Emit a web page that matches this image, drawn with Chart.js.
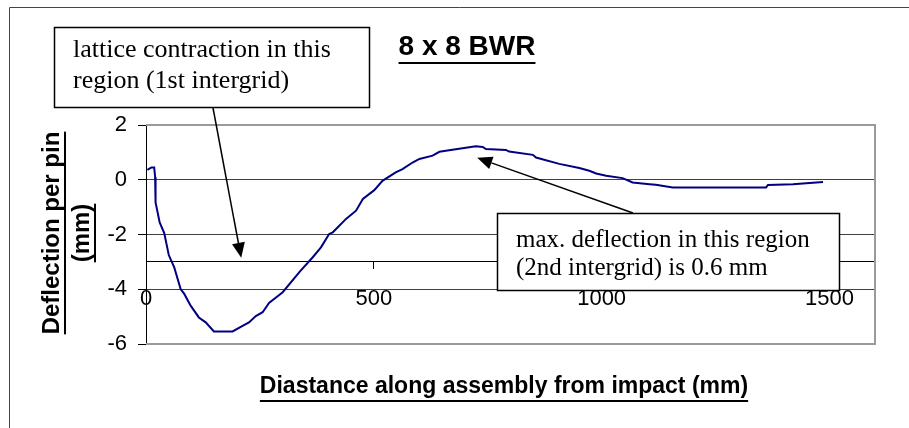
<!DOCTYPE html>
<html lang="en">
<head>
<meta charset="UTF-8">
<title>8 x 8 BWR</title>
<style>
  body { margin: 0; background: #fff; }
  canvas { display: block; }
</style>
</head>
<body>
<canvas id="deflChart" width="909" height="428"></canvas>

<script src="https://cdn.jsdelivr.net/npm/chart.js"></script>
<script>
// values (mm)
const distance = [3, 12, 18, 20, 21, 30, 40, 50, 62, 76, 84, 98, 116, 131, 149, 170, 190, 211, 226, 241,
  256, 270, 300, 338, 366, 384, 402, 410, 439, 461, 476, 501, 519, 548, 563, 585, 600, 629, 644, 658,
  702, 724, 739, 746, 790, 797, 849, 856, 907, 951, 973, 988, 1010, 1046, 1068, 1105, 1119, 1156, 1361, 1365,
  1420, 1486];
const deflection = [0.36, 0.45, 0.45, 0.10, -0.83, -1.56, -1.95, -2.75, -3.2, -3.99, -4.17, -4.6, -5.03, -5.21, -5.54, -5.54, -5.54, -5.35, -5.21, -4.98,
  -4.84, -4.5, -4.11, -3.35, -2.83, -2.47, -1.98, -1.92, -1.43, -1.13, -0.70, -0.38, -0.04, 0.27, 0.39, 0.63, 0.76, 0.88, 1.02, 1.06,
  1.17, 1.22, 1.20, 1.12, 1.09, 1.03, 0.91, 0.81, 0.58, 0.43, 0.33, 0.23, 0.15, 0.06, -0.10, -0.16, -0.18, -0.28, -0.28, -0.19,
  -0.16, -0.08];

const xTicks = [0, 500, 1000, 1500];
const yTicks = [2, 0, -2, -4, -6];

const chartTitle = '8 x 8 BWR';
const xTitle = 'Diastance along assembly from impact (mm)';
const yTitle = ['Deflection per pin', '(mm)'];
const note1 = ['lattice contraction in this', 'region (1st intergrid)'];
const note2 = ['max. deflection in this region', '(2nd intergrid) is 0.6 mm'];
// arrow tips, in data units
const note1Tip = [209, -2.85];
const note2Tip = [727, 0.80];

const SANS = '"Liberation Sans", Arial, sans-serif';
const SERIF = '"Liberation Serif", "Times New Roman", serif';

function underlined(ctx, text, x, y, off) {
    ctx.fillText(text, x, y);
    const w = ctx.measureText(text).width;
    ctx.fillRect(x - w / 2, y + off, w, 2);
}

function arrow(ctx, x1, y1, x2, y2) {
    const a = Math.atan2(y2 - y1, x2 - x1);
    const hl = 15, hw = 6.5;
    const bx = x2 - hl * Math.cos(a), by = y2 - hl * Math.sin(a);
    ctx.beginPath();
    ctx.moveTo(x1, y1);
    ctx.lineTo(bx, by);
    ctx.stroke();
    ctx.beginPath();
    ctx.moveTo(x2, y2);
    ctx.lineTo(bx + hw * Math.sin(a), by - hw * Math.cos(a));
    ctx.lineTo(bx - hw * Math.sin(a), by + hw * Math.cos(a));
    ctx.closePath();
    ctx.fill();
}

function noteBox(ctx, lines, x, y, w, h, tx, ty, gap, size) {
    ctx.fillStyle = '#fff';
    ctx.fillRect(x, y, w, h);
    ctx.strokeStyle = '#000';
    ctx.lineWidth = 1.5;
    ctx.strokeRect(x, y, w, h);
    ctx.fillStyle = '#000';
    ctx.font = size + 'px ' + SERIF;
    ctx.textAlign = 'left';
    ctx.textBaseline = 'middle';
    lines.forEach((l, i) => ctx.fillText(l, tx, ty + i * gap));
}

const sketch = {
    id: 'sketch',
    beforeDraw(chart) {
        const ctx = chart.ctx;
        ctx.save();
        ctx.fillStyle = '#fff';
        ctx.fillRect(0, 0, chart.width, chart.height);
        ctx.strokeStyle = '#444';
        ctx.lineWidth = 1;
        ctx.beginPath();
        ctx.moveTo(9.5, chart.height);
        ctx.lineTo(9.5, 7.5);
        ctx.lineTo(chart.width, 7.5);
        ctx.stroke();
        ctx.restore();
    },
    beforeDatasetsDraw(chart) {
        const {ctx, chartArea: a} = chart;
        ctx.save();
        ctx.strokeStyle = '#9a9a9a';
        ctx.lineWidth = 2;
        ctx.beginPath();
        ctx.moveTo(a.left, a.top);
        ctx.lineTo(a.right, a.top);
        ctx.lineTo(a.right, a.bottom);
        ctx.lineTo(a.left, a.bottom);
        ctx.stroke();
        ctx.restore();
    },
    afterDraw(chart) {
        const ctx = chart.ctx;
        const xs = chart.scales.x, ys = chart.scales.y;
        ctx.save();
        ctx.fillStyle = '#000';
        ctx.textAlign = 'center';
        ctx.textBaseline = 'middle';

        ctx.font = 'bold 28px ' + SANS;
        underlined(ctx, chartTitle, 467, 47, 15);

        ctx.font = 'bold 23px ' + SANS;
        underlined(ctx, xTitle, 504, 387, 13);

        ctx.save();
        ctx.font = 'bold 24px ' + SANS;
        ctx.translate(67, 233);
        ctx.rotate(-Math.PI / 2);
        underlined(ctx, yTitle[0], 0, -15, 12);
        underlined(ctx, yTitle[1], 0, 15, 12);
        ctx.restore();

        noteBox(ctx, note1, 54.5, 27.5, 315, 80, 73, 50, 31, 26);
        noteBox(ctx, note2, 497.5, 213.5, 342, 77, 516, 240, 28, 25);

        ctx.strokeStyle = '#000';
        ctx.fillStyle = '#000';
        ctx.lineWidth = 1.5;
        arrow(ctx, 213, 108, xs.getPixelForValue(note1Tip[0]), ys.getPixelForValue(note1Tip[1]));
        arrow(ctx, 633, 213, xs.getPixelForValue(note2Tip[0]), ys.getPixelForValue(note2Tip[1]));
        ctx.restore();
    }
};

const points = distance.map((d, i) => ({x: d, y: deflection[i]}));

new Chart(document.getElementById('deflChart'), {
    type: 'line',
    data: {
        datasets: [{
            data: points,
            borderColor: '#000080',
            borderWidth: 2,
            pointRadius: 0,
            fill: false,
            tension: 0
        }]
    },
    options: {
        responsive: false,
        animation: false,
        layout: { padding: { left: 106, top: 125, right: 34, bottom: 84 } },
        plugins: {
            legend: { display: false },
            tooltip: { enabled: false }
        },
        scales: {
            x: {
                type: 'linear',
                min: 0,
                max: 1600,
                position: { y: -3 },
                afterBuildTicks: s => { s.ticks = xTicks.map(v => ({ value: v })); },
                border: { color: '#000', width: 1 },
                grid: { drawOnChartArea: false, tickColor: '#000', tickLength: 7 },
                ticks: {
                    color: '#000',
                    font: { family: SANS, size: 22 },
                    padding: 17,
                    maxRotation: 0,
                    callback: v => String(v)
                }
            },
            y: {
                min: -6,
                max: 2,
                afterBuildTicks: s => { s.ticks = yTicks.map(v => ({ value: v })); },
                afterFit: s => { s.width = 40; },
                border: { color: '#000', width: 1 },
                grid: {
                    color: c => (c.tick.value === 0 || c.tick.value === -2 || c.tick.value === -4) ? '#404040' : 'rgba(0,0,0,0)',
                    tickColor: '#000',
                    tickLength: 8
                },
                ticks: {
                    color: '#000',
                    font: { family: SANS, size: 22 },
                    padding: 11,
                    callback: v => String(v)
                }
            }
        }
    },
    plugins: [sketch]
});
</script>
</body>
</html>
